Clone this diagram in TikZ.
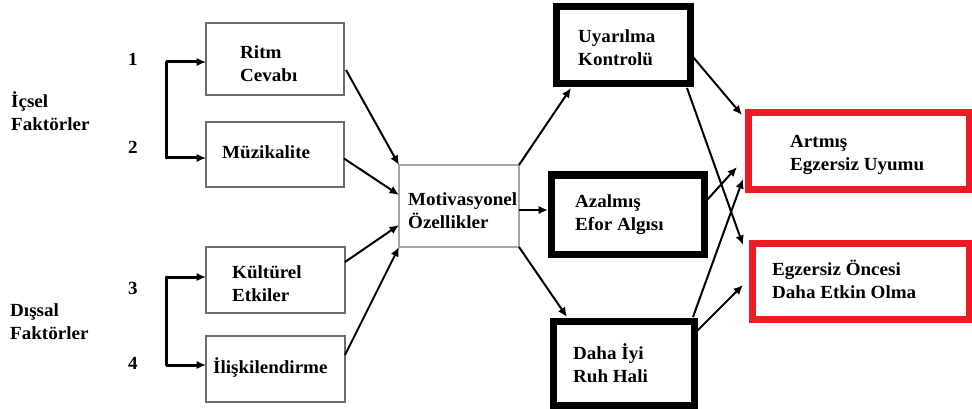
\documentclass[tikz,border=0pt]{standalone}
\usepackage{fontspec}
\setmainfont{Liberation Serif}[FakeStretch=1.03]
\usetikzlibrary{arrows.meta,calc}
\definecolor{redbox}{HTML}{ED1C24}
\begin{document}
\begin{tikzpicture}[x=1pt,y=-1pt,
  every node/.style={font=\fontsize{18.5}{23}\selectfont\bfseries},
  thinbox/.style={draw=gray!85!black,line width=1.3pt,inner sep=0pt,outer sep=0pt},
  thickbox/.style={draw=black,line width=7pt,inner sep=0pt,outer sep=0pt},
  redframe/.style={draw=redbox,line width=7pt,inner sep=0pt,outer sep=0pt},
  txt/.style={anchor=west,align=left,inner sep=0pt},
  arr/.style={-{Latex[length=9.5pt,width=8.5pt]},line width=2pt},
  brk/.style={line width=3pt,-{Latex[length=9.5pt,width=8.5pt]}}]
\useasboundingbox (0,0) rectangle (972,409);
% boxes
\node[thinbox,minimum width=138pt,minimum height=72pt] (ritm) at (275,59) {};
\node[thinbox,minimum width=138pt,minimum height=65pt] (muz) at (275,154.5) {};
\node[thinbox,minimum width=139pt,minimum height=66pt] (kul) at (275.5,280) {};
\node[thinbox,minimum width=139pt,minimum height=66pt] (ilis) at (275.5,369) {};
\node[thinbox,draw=gray!70,minimum width=120pt,minimum height=82pt] (motiv) at (459,206) {};
\node[thickbox,minimum width=134pt,minimum height=77pt] (uyar) at (623,45.5) {};
\node[thickbox,minimum width=153pt,minimum height=79pt] (azal) at (627.5,214.5) {};
\node[thickbox,minimum width=141pt,minimum height=84pt] (daha) at (623.5,363) {};
\node[redframe,minimum width=221pt,minimum height=76pt] (artmis) at (858.5,151) {};
\node[redframe,minimum width=217pt,minimum height=76pt] (oncesi) at (860.5,281) {};
% texts
\node[txt] (tritm) at (240,63.5) {Ritm\\Cevabı};
\node[txt] (tmuz) at (222,152) {Müzikalite};
\node[txt] (tkul) at (232,284) {Kültürel\\Etkiler};
\node[txt] (tilis) at (213,367) {İlişkilendirme};
\node[txt] (tmotiv) at (408,211) {Motivasyonel\\Özellikler};
\node[txt] (tuyar) at (578,47.5) {Uyarılma\\Kontrolü};
\node[txt] (tazal) at (575,215) {Azalmış\\Efor Algısı};
\node[txt] (tdaha) at (573,363.5) {Daha İyi\\Ruh Hali};
\node[txt] (tartmis) at (790,154.5) {Artmış\\Egzersiz Uyumu};
\node[txt] (toncesi) at (772,279) {Egzersiz Öncesi\\Daha Etkin Olma};
\node[txt] (icsel) at (11,111) {İçsel\\Faktörler};
\node[txt] (dissal) at (10,322) {Dışsal\\Faktörler};
\node (n1) at (133,59) {1};
\node (n2) at (133,147) {2};
\node (n3) at (133,288) {3};
\node (n4) at (133,363) {4};
% brackets
\coordinate (b1) at (166,62);
\coordinate (b2) at (166,158);
\coordinate (b3) at (166,277);
\coordinate (b4) at (166,365);
\draw[line width=3pt,line cap=round] (b1) -- (b2);
\draw[brk] (b1) -- (ritm.west |- b1);
\draw[brk] (b2) -- (muz.west |- b2);
\draw[line width=3pt,line cap=round] (b3) -- (b4);
\draw[brk] (b3) -- (kul.west |- b3);
\draw[brk] (b4) -- (ilis.west |- b4);
% arrows into motiv
\draw[arr] ($(ritm.east)+(2,11)$) -- (motiv.north west);
\draw[arr] ($(muz.east)+(0,4)$) -- ($(motiv.west)+(0,-11)$);
\draw[arr] ($(kul.east)+(0,-18)$) -- ($(motiv.west)+(0,19)$);
\draw[arr] ($(ilis.east)+(0,-14)$) -- (motiv.south west);
% motiv to middle column
\draw[arr] (motiv.north east) -- ($(uyar.south west)+(15,4)$);
\draw[arr] ($(motiv.east)+(0,4)$) -- ($(azal.west)+(-3,-4.5)$);
\draw[arr] (motiv.south east) -- ($(daha.north west)+(14,-4)$);
% middle to right
\draw[arr] ($(uyar.east)+(3,11.5)$) -- ($(artmis.north west)+(-6,2)$);
\draw[arr] ($(uyar.south east)+(-3,4)$) -- ($(oncesi.north west)+(-9,2)$);
\draw[arr] ($(azal.east)+(3,-14.5)$) -- ($(artmis.west)+(-11,16)$);
\draw[arr] ($(daha.north east)+(-1,-4)$) -- ($(artmis.south west)+(-5,-10)$);
\draw[arr] ($(daha.east)+(1,-30)$) -- ($(oncesi.west)+(-9,4)$);
\end{tikzpicture}
\end{document}
